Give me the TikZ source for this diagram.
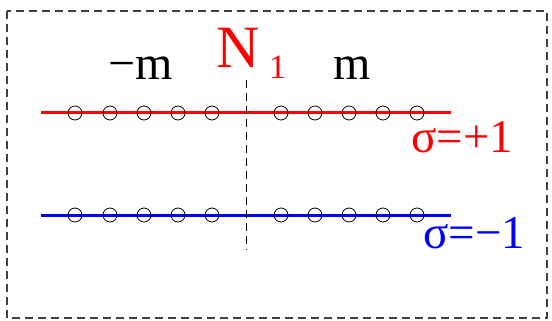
\documentclass[tikz,border=0pt]{standalone}
\usepackage{fontspec}
\setmainfont{Liberation Serif}
\definecolor{spinup}{HTML}{FF0000}
\definecolor{spindown}{HTML}{0000FF}
\colorlet{framegray}{black!75}

\begin{document}
\begin{tikzpicture}[x=1pt, y=-1pt,
    site/.style={circle, draw=black, line width=0.8pt, inner sep=0pt,
                 minimum size=14pt},
    chain/.style={line width=3pt},
    lbl/.style={inner sep=0pt, anchor=base west}]
  \useasboundingbox (0,0) rectangle (552,321);
  % outer dashed frame
  \draw[framegray, line width=1.1pt, dash pattern=on 8pt off 5pt]
    (7,11) rectangle (547,318);
  % the two chains, sigma = +1 on top and sigma = -1 below
  \coordinate (upL) at (41,113);  \coordinate (upR) at (451,113);
  \coordinate (dnL) at (41,215);  \coordinate (dnR) at (451,215);
  \draw[chain, spinup] (upL) -- (upR);
  \draw[chain, spindown] (dnL) -- (dnR);
  % sites: five on each side of the cut
  \foreach \x [count=\i] in {75,110,144,178,212,281,315,349,383,417} {
    \node[site] (u\i) at (\x,113) {};
    \node[site] (d\i) at (\x,215) {};
  }
  % dashed cut at N_1
  \coordinate (cutT) at (246.5,80);
  \coordinate (cutB) at (246.5,250);
  \draw[black, line width=0.9pt, dash pattern=on 8pt off 5pt] (cutT) -- (cutB);
  % labels
  \node[lbl, font=\fontsize{48}{48}\selectfont] (mneg) at (108,80) {−m};
  \node[lbl, font=\fontsize{48}{48}\selectfont] (mpos) at (333,80) {m};
  \node[lbl, spinup, font=\fontsize{60}{60}\selectfont] (n1) at (216,67) {N};
  \node[lbl, spinup, font=\fontsize{34}{34}\selectfont] (n1sub) at (269,78) {1};
  \node[lbl, spinup, font=\fontsize{47}{47}\selectfont] (sup) at (411,152) {σ=+1};
  \node[lbl, spindown, font=\fontsize{47}{47}\selectfont] (sdn) at (423,248) {σ=−1};
\end{tikzpicture}
\end{document}
